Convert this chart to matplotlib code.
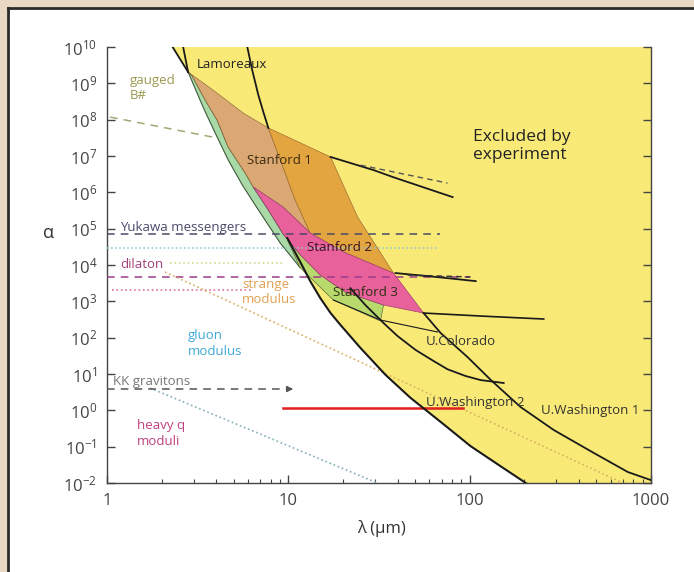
import matplotlib
matplotlib.use("Agg")
import matplotlib.pyplot as plt
from matplotlib.patches import Rectangle
from matplotlib.lines import Line2D

plt.rcParams['font.family'] = ['Open Sans', 'DejaVu Sans']

# outer edge of the excluded band (left boundary of the green strip)
edge_lam = [2.8, 3.39, 3.95, 4.66, 5.57, 6.83, 9.03, 11.65]
edge_alpha = [2.05e9, 2.2e8, 4.3e7, 7.8e6, 1.6e6, 3.3e5, 4.0e4, 8.3e3]

# inner edge of the green strip (tan / pink side)
inner_lam = [2.95, 3.48, 4.05, 4.66, 5.79, 6.41, 7.76, 9.38, 11.65]
inner_alpha = [1.6e9, 3.5e8, 9.8e7, 1.77e7, 3.4e6, 1.4e6, 3.3e5, 7.1e4, 1.9e4]

# Stanford 1, light part
tan_lam = [2.8, 3.85, 5.64, 7.76, 9.03, 10.9, 13.2, 9.38, 6.41, 5.79, 4.66, 4.05, 3.48, 2.95]
tan_alpha = [2.05e9, 6.5e8, 1.52e8, 5.9e7, 7.8e6, 6.2e5, 7.6e4, 3.9e5, 1.4e6, 3.4e6, 1.77e7, 9.8e7, 3.5e8, 1.6e9]

# Stanford 1, dark part
dark_lam = [7.76, 11.65, 17.1, 24.1, 38, 20.1, 13.2, 10.9, 9.03]
dark_alpha = [5.9e7, 2.3e7, 9.4e6, 2.1e5, 6.0e3, 2.3e4, 7.6e4, 6.2e5, 7.8e6]

# Stanford 2 / 3 pink region
pink_lam = [6.41, 9.38, 13.2, 20.1, 38, 55.7, 33.5, 20.6, 15.0, 11.65, 9.38, 7.76]
pink_alpha = [1.4e6, 3.9e5, 7.6e4, 2.3e4, 6.0e3, 476, 791, 1.8e3, 5.3e3, 1.9e4, 7.1e4, 3.3e5]

# Stanford 3 green region
s3_lam = [9.87, 11.65, 17.7, 32.2, 33.5, 20.6, 15.0, 11.65]
s3_alpha = [4.9e4, 8.3e3, 1.09e3, 287, 791, 1.8e3, 5.3e3, 1.9e4]

# experimental limit curves
uw2_lam = [9.87, 11.65, 13.2, 15.0, 17.1, 19.4, 25, 34.4, 47.2, 69.2, 101, 148, 204]
uw2_alpha = [5.5e4, 1.2e4, 3.6e3, 1.23e3, 476, 223, 52, 9.4, 2.2, 0.48, 0.104, 0.029, 0.01]
mid_lam = [22, 26.6, 33.5, 40, 50.3, 63.2, 75.5, 95, 115, 154]
mid_alpha = [2.3e3, 791, 253, 111, 46, 22.8, 13.5, 8.8, 6.8, 5.65]
uw1_lam = [55.7, 69.2, 97.5, 131, 191, 291, 484, 746, 1000]
uw1_alpha = [476, 134, 29, 6.8, 1.23, 0.287, 0.067, 0.020, 0.012]
lamo_lam = [5.94, 6.32, 6.83, 7.28, 7.76]
lamo_alpha = [1e10, 2.33e9, 4.8e8, 1.63e8, 5.9e7]
cross1_lam, cross1_alpha = [2.3, 2.8], [1e10, 2.05e9]
cross2_lam, cross2_alpha = [2.63, 2.8], [1e10, 2.05e9]
st1_lam = [17.1, 29.5, 38, 80.5]
st1_alpha = [9.4e6, 4.1e6, 2.6e6, 7.4e5]
st1d_lam, st1d_alpha = [25, 75.5], [5.6e6, 1.8e6]
st2_lam = [39, 65, 108]
st2_alpha = [6.0e3, 4.7e3, 3.6e3]
st2d_lam, st2d_alpha = [45.4, 101], [5.3e3, 4.7e3]
st3_lam = [55.7, 115, 256]
st3_alpha = [476, 394, 326]
colo_lam = [17.7, 32.2, 66.5]
colo_alpha = [1.09e3, 306, 143]

# theory predictions
gauged_lam, gauged_alpha = [1.04, 3.85], [1.18e8, 3.3e7]
yukawa_lam, yukawa_alpha = [1, 69], [7.1e4, 7.1e4]
blue_lam, blue_alpha = [1, 66.5], [2.9e4, 2.9e4]
pale_lam, pale_alpha = [2.23, 9.5], [1.1e4, 1.1e4]
dilaton_lam, dilaton_alpha = [1, 101], [4.7e3, 4.7e3]
pinkdot_lam, pinkdot_alpha = [1.07, 6.41], [2.05e3, 2.05e3]
strange_lam, strange_alpha = [2.09, 700], [6.4e3, 0.01]
kk_lam, kk_alpha = [1, 10.5], [3.86, 3.86]
heavy_lam, heavy_alpha = [1.73, 31], [4.1, 0.01]
red_lam, red_alpha = [9.4, 91.5], [1.16, 1.16]

fig = plt.figure(figsize=(6.94, 5.72), dpi=100)
fig.patch.set_facecolor('white')
ax = fig.add_axes([107 / 694, 89 / 572, 544 / 694, 436 / 572])
ax.set_xscale('log')
ax.set_yscale('log')
ax.set_xlim(1, 1000)
ax.set_ylim(1e-2, 1e10)

# regions
yel_lam = [2.3, 1000, 1000] + uw2_lam[::-1] + edge_lam[-2::-1]
yel_alpha = [1e10, 1e10, 0.01] + uw2_alpha[::-1] + edge_alpha[-2::-1]
ax.fill(yel_lam, yel_alpha, color='#f9ea78', lw=0, zorder=1)
ax.fill(edge_lam + inner_lam[::-1], edge_alpha + inner_alpha[::-1],
        facecolor='#a9d9a6', edgecolor='#3d5a3d', lw=0.8, zorder=2)
ax.fill(tan_lam, tan_alpha, facecolor='#dba873', edgecolor='#9a7040', lw=0.5, zorder=3)
ax.fill(dark_lam, dark_alpha, facecolor='#e2a540', edgecolor='#a07030', lw=0.5, zorder=3)
ax.fill(s3_lam, s3_alpha, facecolor='#b8d96c', edgecolor='#5a6a3a', lw=0.5, zorder=3)
ax.fill(pink_lam, pink_alpha, facecolor='#e8619b', edgecolor='#a04070', lw=0.5, zorder=4)

# theory lines
ax.plot(gauged_lam, gauged_alpha, color='#a5a575', ls=(0, (5, 4)), lw=1.1, zorder=5)
ax.plot(yukawa_lam, yukawa_alpha, color='#4a4a68', ls=(0, (5, 4)), lw=1.1, zorder=5)
ax.plot(blue_lam, blue_alpha, color='#8cc8d8', ls=':', lw=1.1, zorder=5)
ax.plot(pale_lam, pale_alpha, color='#d8d890', ls=':', lw=1.2, zorder=5)
ax.plot(dilaton_lam, dilaton_alpha, color='#9a3c8c', ls=(0, (5, 4)), lw=1.1, zorder=5)
ax.plot(pinkdot_lam, pinkdot_alpha, color='#e070a0', ls=':', lw=1.2, zorder=5)
ax.plot(strange_lam, strange_alpha, color='#d8b060', ls=':', lw=1.2, zorder=5)
ax.plot(heavy_lam, heavy_alpha, color='#80b0b8', ls=':', lw=1.2, zorder=5)
ax.plot(kk_lam, kk_alpha, color='#555555', ls=(0, (5, 4)), lw=1.1, zorder=5)
ax.annotate('', xy=(kk_lam[1] * 1.05, kk_alpha[1]), xytext=(kk_lam[1] * 0.9, kk_alpha[1]),
            arrowprops=dict(arrowstyle='-|>', color='#555555', lw=1, mutation_scale=9), zorder=5)
ax.plot(red_lam, red_alpha, color='#e02020', lw=1.8, zorder=6)

# experimental limits
for xs, ys, w in [(uw2_lam, uw2_alpha, 1.5), (mid_lam, mid_alpha, 1.3), (uw1_lam, uw1_alpha, 1.3),
                  (lamo_lam, lamo_alpha, 1.3), (cross1_lam, cross1_alpha, 1.3),
                  (cross2_lam, cross2_alpha, 1.3), (st1_lam, st1_alpha, 1.3),
                  (st2_lam, st2_alpha, 1.3), (st3_lam, st3_alpha, 1.2), (colo_lam, colo_alpha, 0.8)]:
    ax.plot(xs, ys, color='#1a1a1a', lw=w, zorder=6)
ax.plot(st1d_lam, st1d_alpha, color='#555555', ls=(0, (4, 3)), lw=1, zorder=6)
ax.plot(st2d_lam, st2d_alpha, color='#333333', ls=(0, (4, 3)), lw=1, zorder=6)

# labels
lab = dict(fontsize=9.5, zorder=7)
ax.text(3.14, 3.4e9, 'Lamoreaux', color='#222222', va='center', **lab)
ax.text(5.94, 7.3e6, 'Stanford 1', color='#3a2a10', va='center', **lab)
ax.text(12.7, 3.1e4, 'Stanford 2', color='#3a1020', va='center', **lab)
ax.text(17.7, 1.8e3, 'Stanford 3', color='#2a3010', va='center', **lab)
ax.text(57.1, 76, 'U.Colorado', color='#333333', va='center', **lab)
ax.text(57.1, 1.6, 'U.Washington 2', color='#333333', va='center', **lab)
ax.text(247, 1.0, 'U.Washington 1', color='#333333', va='center', **lab)
ax.text(104, 1.9e7, 'Excluded by\nexperiment', color='#222222', va='center', fontsize=12.5,
        linespacing=1.2, zorder=7)
ax.text(1.34, 7.4e8, 'gauged\nB#', color='#9a9a50', va='center', linespacing=1.2, **lab)
ax.text(1.18, 1.1e5, 'Yukawa messengers', color='#4a4a6a', va='center', **lab)
ax.text(1.18, 1.0e4, 'dilaton', color='#a0407a', va='center', **lab)
ax.text(5.57, 1.8e3, 'strange\nmodulus', color='#e0a050', va='center', linespacing=1.2, **lab)
ax.text(2.8, 71, 'gluon\nmodulus', color='#40a8d8', va='center', linespacing=1.3, **lab)
ax.text(1.08, 6.4, 'KK gravitons', color='#777777', va='center', **lab)
ax.text(1.47, 0.237, 'heavy q\nmoduli', color='#c04080', va='center', linespacing=1.3, **lab)

# axes styling
ax.spines['top'].set_visible(False)
for s in ['left', 'right', 'bottom']:
    ax.spines[s].set_color('#444444')
    ax.spines[s].set_linewidth(1.0)
ax.set_yticks([10.0 ** k for k in range(-2, 11)])
ax.yaxis.set_minor_locator(matplotlib.ticker.NullLocator())
ax.tick_params(axis='y', which='major', direction='in', length=6, width=1, colors='#444444',
               labelsize=12, right=True, pad=7)
ax.tick_params(axis='x', which='major', direction='in', length=6, width=1, colors='#444444',
               labelsize=12, pad=7)
ax.tick_params(axis='x', which='minor', direction='in', length=3, width=0.8, colors='#444444')
ax.set_xticks([1, 10, 100, 1000])
ax.set_xticklabels(['1', '10', '100', '1000'])
ax.set_ylabel('α', rotation=0, fontsize=13, color='#333333')
ax.yaxis.set_label_coords(-0.108, 0.553)
ax.set_xlabel('λ (μm)', fontsize=12, color='#333333')
ax.xaxis.set_label_coords(0.504, -0.085)

# page border
fig.add_artist(Rectangle((0, 1 - 6 / 572), 1, 6 / 572, transform=fig.transFigure,
                         color='#e9d9c4', zorder=0))
fig.add_artist(Rectangle((0, 0), 6 / 694, 1, transform=fig.transFigure,
                         color='#e9d9c4', zorder=0))
fig.add_artist(Line2D([7.5 / 694, 1], [1 - 7.5 / 572, 1 - 7.5 / 572], transform=fig.transFigure,
                      color='#2a2a2a', lw=2))
fig.add_artist(Line2D([7.5 / 694, 7.5 / 694], [0, 1 - 7.5 / 572], transform=fig.transFigure,
                      color='#2a2a2a', lw=2))

fig.savefig('out.png', dpi=100)
